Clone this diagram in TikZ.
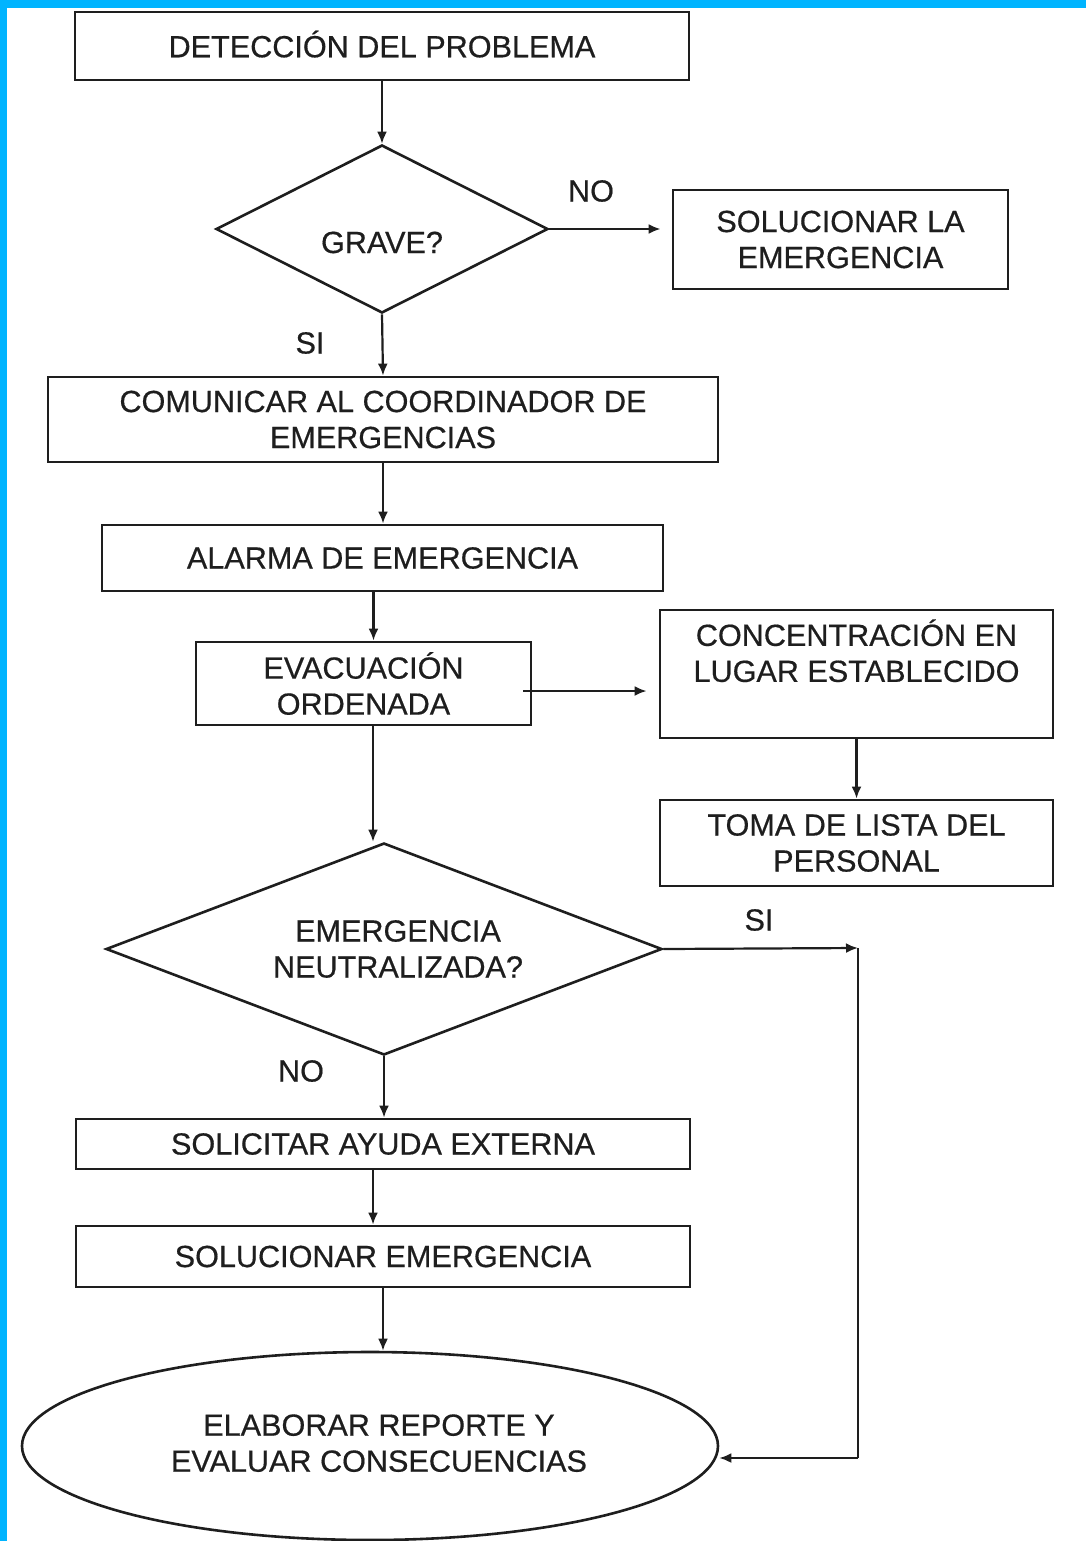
\documentclass[tikz,border=0pt]{standalone}
\usepackage{fontspec}
\setmainfont{Liberation Sans}
\newfontfamily\heavysans[FakeBold=0.5]{Liberation Sans}
\usetikzlibrary{arrows.meta,shapes.geometric,calc}
\definecolor{frame}{RGB}{0,180,255}
\definecolor{ink}{RGB}{30,30,30}
\begin{document}
\begin{tikzpicture}[x=0.5pt,y=-0.5pt,
  font=\heavysans\fontsize{15.3}{18}\selectfont,
  every node/.style={text=ink},
  box/.style={draw=ink,line width=1.4pt,rectangle,inner sep=0pt,align=center},
  dia/.style={draw=ink,line width=1.3pt,diamond,inner sep=0pt,align=center},
  ell/.style={draw=ink,line width=1.3pt,ellipse,inner sep=0pt,align=center},
  arr/.style={draw=ink,line width=1.1pt,-{Latex[length=6pt,width=5pt]}},
  ln/.style={draw=ink,line width=1.1pt},
  lbl/.style={inner sep=0pt}]
\useasboundingbox (0,0) rectangle (1086,1541);
\fill[frame] (0,0) rectangle (1086,1541);
\fill[white] (7,8) rectangle (1086,1541);

\node[box,minimum width=307pt,minimum height=34pt] (det) at (382,46) {\raisebox{2pt}{DETECCIÓN DEL PROBLEMA}};
\node[dia,aspect=2,minimum width=166pt,minimum height=84pt] (grave) at (382,229) {\raisebox{-12pt}[0pt][0pt]{GRAVE?}};
\node[box,minimum width=167.5pt,minimum height=49.5pt] (sol) at (840.5,239.5) {SOLUCIONAR LA\\EMERGENCIA};
\node[box,minimum width=335pt,minimum height=42.5pt] (com) at (383,419.5) {COMUNICAR AL COORDINADOR DE\\EMERGENCIAS};
\node[box,minimum width=280.5pt,minimum height=33pt] (alarma) at (382.5,558) {ALARMA DE EMERGENCIA};
\node[box,minimum width=167.5pt,minimum height=41.5pt] (evac) at (363.5,683.5) {EVACUACIÓN\\ORDENADA};
\node[box,minimum width=196.5pt,minimum height=64pt] (conc) at (856.5,674) {CONCENTRACIÓN EN\\LUGAR ESTABLECIDO\\\strut};
\node[box,minimum width=196.5pt,minimum height=43pt] (toma) at (856.5,843) {TOMA DE LISTA DEL\\PERSONAL};
\node[dia,aspect=2.62,minimum width=278pt,minimum height=106pt] (neut) at (384,949) {\hspace*{14pt}EMERGENCIA\\\hspace*{14pt}NEUTRALIZADA?};
\node[box,minimum width=307pt,minimum height=25pt] (ayuda) at (383,1144) {SOLICITAR AYUDA EXTERNA};
\node[box,minimum width=307pt,minimum height=30.5pt] (solu) at (383,1256.5) {SOLUCIONAR EMERGENCIA};
\node[ell,minimum width=348pt,minimum height=94pt] (rep) at (370,1446) {\raisebox{3pt}{\hspace*{9pt}ELABORAR REPORTE Y}\\\raisebox{3pt}{\hspace*{9pt}EVALUAR CONSECUENCIAS}};

\node[lbl] (no1) at (591,191) {NO};
\node[lbl] (si1) at (310,343) {SI};
\node[lbl] (si2) at (759,920) {SI};
\node[lbl] (no2) at (301,1071) {NO};

\coordinate (c1) at (858,948);
\coordinate (c2) at (858,1458);
\coordinate (ea) at ([shift={(-9,7.5)}]evac.east);

\draw[arr] (det.south) -- (grave.north);
\draw[arr,shorten >=5.5pt] (grave.east) -- (grave.east -| sol.west);
\draw[arr] (grave.south) -- (com.north);
\draw[arr] (com.south) -- (com.south |- alarma.north);
\draw[arr] ([xshift=-4.5pt]alarma.south) -- ([xshift=-4.5pt]alarma.south |- evac.north);
\draw[arr,shorten >=6pt] (ea) -- (ea -| conc.west);
\draw[arr] (conc.south) -- (toma.north);
\draw[arr] ([xshift=4.75pt]evac.south) -- ([xshift=4.75pt]evac.south |- neut.north);
\draw[arr] (neut.east) -- (c1);
\draw[ln] (c1) -- (c2);
\draw[arr] (c2) -- (c2 -| rep.east);
\draw[arr] (neut.south) -- (neut.south |- ayuda.north);
\draw[arr] ([xshift=-5pt]ayuda.south) -- ([xshift=-5pt]ayuda.south |- solu.north);
\draw[arr] (solu.south) -- (solu.south |- rep.north);
\end{tikzpicture}
\end{document}
